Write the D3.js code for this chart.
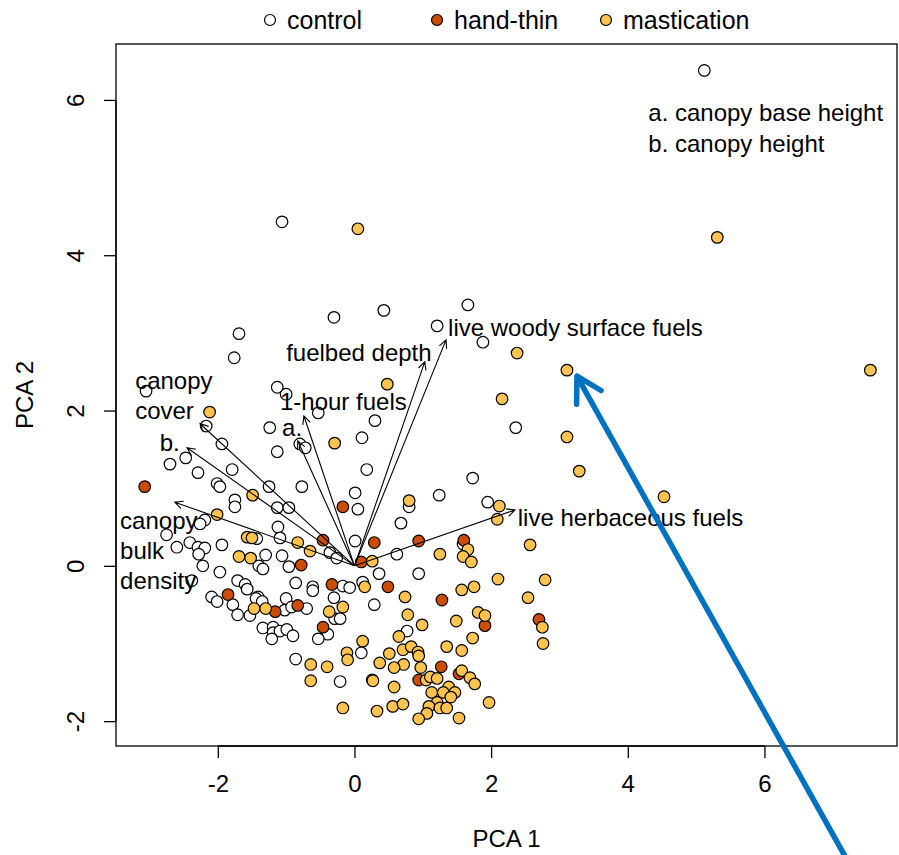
<!DOCTYPE html>
<html>
<head>
<meta charset="utf-8">
<script src="https://cdn.jsdelivr.net/npm/d3@7"></script>
<style>
  html, body { margin: 0; padding: 0; background: #fff; }
  svg text { font-family: "Liberation Sans", Arial, Helvetica, sans-serif; fill: #000; }
</style>
</head>
<body>
<svg id="chart" width="899" height="855"></svg>
<script>
// Treatment groups and their marker fills
const groups = ["control", "hand-thin", "mastication"];
const groupFill = { "control": "#ffffff", "hand-thin": "#cc4c02", "mastication": "#fec44f" };

// PCA scores (PCA 1, PCA 2) per treatment
const controlScores = [
  [5.12,6.38],[-1.06,4.43],[-0.30,3.20],[0.43,3.29],[1.66,3.36],[1.21,3.09],[1.88,2.88],
  [-1.69,2.99],[-1.76,2.68],[-1.13,2.30],[-1.00,2.21],[-3.05,2.25],[-0.53,1.97],[0.30,1.87],
  [2.36,1.78],[-2.17,1.80],[-1.24,1.78],[0.11,1.65],[-0.80,1.57],[-0.72,1.52],[-1.13,1.47],
  [-1.94,1.57],[-2.70,1.31],[-2.47,1.39],[-2.29,1.20],[-1.79,1.24],[0.18,1.24],[1.73,1.13],
  [-2.01,1.06],[-1.97,1.02],[-1.25,1.02],[-0.77,1.02],[0.01,0.94],[1.24,0.91],[1.95,0.82],
  [-1.75,0.85],[-1.75,0.76],[-1.13,0.75],[-0.96,0.75],[0.05,0.73],[0.80,0.76],[0.68,0.55],
  [-2.19,0.59],[-2.26,0.54],[-1.12,0.50],[-2.75,0.40],[-1.09,0.36],[-1.43,0.35],[0.01,0.32],
  [1.59,0.28],[-2.60,0.24],[-2.41,0.30],[-2.29,0.24],[-2.19,0.23],[-1.94,0.27],[-2.28,0.15],
  [-2.22,0.00],[-1.97,-0.08],[-2.38,-0.19],[-1.71,-0.19],[-1.30,0.14],[-1.06,0.13],[-0.36,0.17],
  [-0.26,0.10],[0.62,0.15],[-1.40,0.00],[-1.34,-0.04],[-0.96,-0.01],[0.36,-0.10],[0.94,-0.10],
  [-1.60,-0.24],[-1.57,-0.30],[-0.86,-0.22],[-0.61,-0.27],[-0.61,-0.32],[-0.17,-0.26],[-0.07,-0.28],
  [0.12,-0.21],[-2.09,-0.40],[-2.01,-0.46],[-1.78,-0.50],[-1.41,-0.40],[-1.44,-0.42],[-1.35,-0.46],
  [-1.00,-0.42],[-1.02,-0.57],[-0.92,-0.53],[-0.70,-0.55],[-1.71,-0.63],[-1.53,-0.64],[-0.30,-0.41],
  [-0.29,-0.68],[-0.21,-0.68],[0.29,-0.50],[-1.34,-0.80],[-1.19,-0.79],[-1.19,-0.86],[-1.09,-0.84],
  [-0.99,-0.82],[-1.21,-0.94],[-0.90,-0.90],[-0.39,-0.88],[-0.53,-0.94],[-0.86,-1.20],[0.10,-1.12],
  [0.26,-1.47],[-0.21,-1.49],[0.77,-0.84]
];
const handThinScores = [
  [-3.07,1.02],[-0.17,0.76],[0.29,0.30],[0.94,0.32],[1.60,0.33],[-0.46,0.33],[0.10,0.05],
  [-0.78,0.01],[0.49,-0.27],[-0.33,-0.24],[1.28,-0.44],[-1.85,-0.37],[-1.16,-0.59],[-0.83,-0.51],
  [-0.46,-0.79],[1.91,-0.77],[2.70,-0.69],[1.27,-1.30],[1.53,-1.39],[0.94,-1.47]
];
const masticationScores = [
  [0.05,4.34],[5.31,4.23],[2.38,2.74],[3.11,2.52],[7.55,2.52],[0.48,2.34],[-2.12,1.98],
  [2.16,2.15],[3.11,1.66],[-0.29,1.58],[3.29,1.22],[4.53,0.89],[0.80,0.84],[2.12,0.77],
  [2.09,0.60],[-1.49,0.91],[-2.01,0.66],[-1.57,0.37],[-1.50,0.36],[-0.83,0.30],[-0.65,0.19],
  [-1.69,0.12],[-1.52,0.10],[2.57,0.27],[1.66,0.21],[1.59,0.12],[1.71,0.05],[1.25,0.15],
  [0.26,0.06],[2.10,-0.17],[2.79,-0.18],[0.15,-0.27],[0.74,-0.40],[1.57,-0.31],[1.75,-0.27],
  [2.54,-0.41],[-0.17,-0.53],[-1.47,-0.55],[-1.30,-0.55],[-0.37,-0.59],[0.78,-0.63],[0.99,-0.76],
  [1.49,-0.71],[1.81,-0.60],[1.91,-0.64],[2.75,-0.79],[1.73,-0.93],[2.76,-1.00],[0.65,-0.91],
  [0.12,-0.97],[1.35,-1.04],[1.57,-1.09],[-0.11,-1.12],[-0.10,-1.21],[0.71,-1.08],[0.83,-1.04],
  [0.93,-1.11],[0.94,-1.16],[0.51,-1.13],[0.37,-1.25],[0.72,-1.27],[0.58,-1.31],[0.97,-1.31],
  [1.57,-1.35],[1.69,-1.44],[1.76,-1.52],[1.05,-1.47],[1.11,-1.43],[1.21,-1.45],[0.27,-1.48],
  [0.58,-1.56],[1.38,-1.56],[1.47,-1.63],[1.13,-1.63],[1.30,-1.63],[1.41,-1.69],[1.21,-1.76],
  [1.09,-1.81],[1.25,-1.83],[1.35,-1.83],[-0.17,-1.83],[0.33,-1.87],[0.56,-1.81],[0.71,-1.78],
  [1.06,-1.90],[0.94,-1.97],[1.53,-1.96],[1.97,-1.76],[-0.64,-1.27],[-0.40,-1.30],[-0.64,-1.48]
];

// Variable loadings drawn as arrows from the origin
const loadingNames = ["live woody surface fuels","fuelbed depth","1-hour fuels","a.",
                      "canopy cover","b.","canopy bulk density","live herbaceous fuels"];
const loadingPC1 = [1.34, 1.03, -0.74, -0.83, -2.26, -2.45, -2.63, 2.35];
const loadingPC2 = [2.91, 2.63, 1.93, 1.61, 1.83, 1.52, 0.82, 0.72];

// Arrow label text lines and their anchors (left edge, first line centre) in PCA units
const labelLines = [["live woody surface fuels"],["fuelbed depth"],["1-hour fuels"],["a."],
                    ["canopy","cover"],["b."],["canopy","bulk","density"],["live herbaceous fuels"]];
const labelAnchor = [[1.37,3.08],[-1.00,2.75],[-1.09,2.12],[-1.06,1.79],
                     [-3.21,2.39],[-2.85,1.60],[-3.43,0.59],[2.39,0.63]];

const noteLines = ["a. canopy base height", "b. canopy height"];
const noteAnchor = [4.30, 5.84];

const xTicks = [-2, 0, 2, 4, 6];
const yTicks = [-2, 0, 2, 4, 6];
const xTitle = "PCA 1", yTitle = "PCA 2";

// Highlighted score for the callout arrow
const calloutTarget = [3.11, 2.52];

// ---- layout ----
const svg = d3.select("#chart");
const plot = { left: 116, right: 897, top: 44, bottom: 746 };
const x = d3.scaleLinear().domain([-3.49, 7.94]).range([plot.left, plot.right]);
const y = d3.scaleLinear().domain([-2.32, 6.72]).range([plot.bottom, plot.top]);
const fs = 24;

// Axes (R style: axis line between first and last tick, outward ticks)
const xAxis = svg.append("g").attr("transform", `translate(0,${plot.bottom})`)
  .call(d3.axisBottom(x).tickValues(xTicks).tickSize(12).tickPadding(17).tickFormat(d => String(d)));
const yAxis = svg.append("g").attr("transform", `translate(${plot.left},0)`)
  .call(d3.axisLeft(y).tickValues(yTicks).tickSize(12).tickPadding(0).tickFormat(d => String(d)));
[xAxis, yAxis].forEach(g => {
  g.select(".domain").remove();
  g.selectAll(".tick line").attr("stroke", "#000").attr("stroke-width", 1.3);
  g.selectAll(".tick text").attr("font-size", fs).attr("fill", "#000");
});
xAxis.append("line").attr("x1", x(xTicks[0])).attr("x2", x(xTicks[xTicks.length-1]))
  .attr("stroke", "#000").attr("stroke-width", 1.3);
yAxis.append("line").attr("y1", y(yTicks[0])).attr("y2", y(yTicks[yTicks.length-1]))
  .attr("stroke", "#000").attr("stroke-width", 1.3);
// Rotated y tick labels
yAxis.selectAll(".tick text")
  .attr("x", null).attr("dy", null)
  .attr("text-anchor", "middle")
  .attr("transform", "translate(-32,0) rotate(-90)");

// Plot box
svg.append("rect").attr("x", plot.left).attr("y", plot.top)
  .attr("width", plot.right - plot.left).attr("height", plot.bottom - plot.top)
  .attr("fill", "none").attr("stroke", "#000").attr("stroke-width", 1.3);

// Axis titles
svg.append("text").attr("x", (plot.left + plot.right) / 2).attr("y", 847)
  .attr("text-anchor", "middle").attr("font-size", fs).text(xTitle);
svg.append("text").attr("transform", `translate(33,${(plot.top + plot.bottom) / 2}) rotate(-90)`)
  .attr("text-anchor", "middle").attr("font-size", fs).text(yTitle);

// Score points
const pts = [];
controlScores.forEach(d => pts.push({ g: "control", x: d[0], y: d[1] }));
handThinScores.forEach(d => pts.push({ g: "hand-thin", x: d[0], y: d[1] }));
masticationScores.forEach(d => pts.push({ g: "mastication", x: d[0], y: d[1] }));
svg.append("g").selectAll("circle").data(pts).join("circle")
  .attr("cx", d => x(d.x)).attr("cy", d => y(d.y)).attr("r", 5.8)
  .attr("fill", d => groupFill[d.g]).attr("stroke", "#000").attr("stroke-width", 1.2);

// Loading arrows
const arrows = svg.append("g").attr("fill", "none").attr("stroke", "#000").attr("stroke-width", 1.1);
loadingNames.forEach((name, i) => {
  const x0 = x(0), y0 = y(0), x1 = x(loadingPC1[i]), y1 = y(loadingPC2[i]);
  const ang = Math.atan2(y1 - y0, x1 - x0), h = 9, spread = Math.PI / 7;
  const a1 = [x1 - h * Math.cos(ang - spread), y1 - h * Math.sin(ang - spread)];
  const a2 = [x1 - h * Math.cos(ang + spread), y1 - h * Math.sin(ang + spread)];
  arrows.append("path")
    .attr("d", `M${x0},${y0}L${x1},${y1}M${a1[0]},${a1[1]}L${x1},${y1}L${a2[0]},${a2[1]}`);
});

// Loading labels
labelLines.forEach((lines, i) => {
  const t = svg.append("text").attr("font-size", fs)
    .attr("x", x(labelAnchor[i][0])).attr("y", y(labelAnchor[i][1]))
    .attr("dominant-baseline", "central");
  lines.forEach((ln, j) => t.append("tspan").attr("x", x(labelAnchor[i][0]))
    .attr("dy", j === 0 ? 0 : 30).text(ln));
});

// Abbreviation note
const note = svg.append("text").attr("font-size", fs)
  .attr("x", x(noteAnchor[0])).attr("y", y(noteAnchor[1])).attr("dominant-baseline", "central");
noteLines.forEach((ln, j) => note.append("tspan").attr("x", x(noteAnchor[0]))
  .attr("dy", j === 0 ? 0 : 31).text(ln));

// Legend above the plot
const legendX = [270, 437, 606];
const legend = svg.append("g");
groups.forEach((g, i) => {
  legend.append("circle").attr("cx", legendX[i]).attr("cy", 20).attr("r", 5.5)
    .attr("fill", groupFill[g]).attr("stroke", "#000").attr("stroke-width", 1.2);
  legend.append("text").attr("x", legendX[i] + 17).attr("y", 20)
    .attr("dominant-baseline", "central").attr("font-size", 25).text(g);
});

// Blue callout arrow pointing at a highlighted score
const tipX = x(calloutTarget[0]) + 10, tipY = y(calloutTarget[1]) + 6;
const tailX = tipX + 268, tailY = tipY + 480;
const cAng = Math.atan2(tipY - tailY, tipX - tailX), ch = 28, cs = Math.PI / 6;
svg.append("path")
  .attr("d", `M${tailX},${tailY}L${tipX},${tipY}` +
    `M${tipX - ch * Math.cos(cAng - cs)},${tipY - ch * Math.sin(cAng - cs)}L${tipX},${tipY}` +
    `L${tipX - ch * Math.cos(cAng + cs)},${tipY - ch * Math.sin(cAng + cs)}`)
  .attr("fill", "none").attr("stroke", "#0070c0").attr("stroke-width", 5.5)
  .attr("stroke-linecap", "round").attr("stroke-linejoin", "round");
</script>
</body>
</html>
